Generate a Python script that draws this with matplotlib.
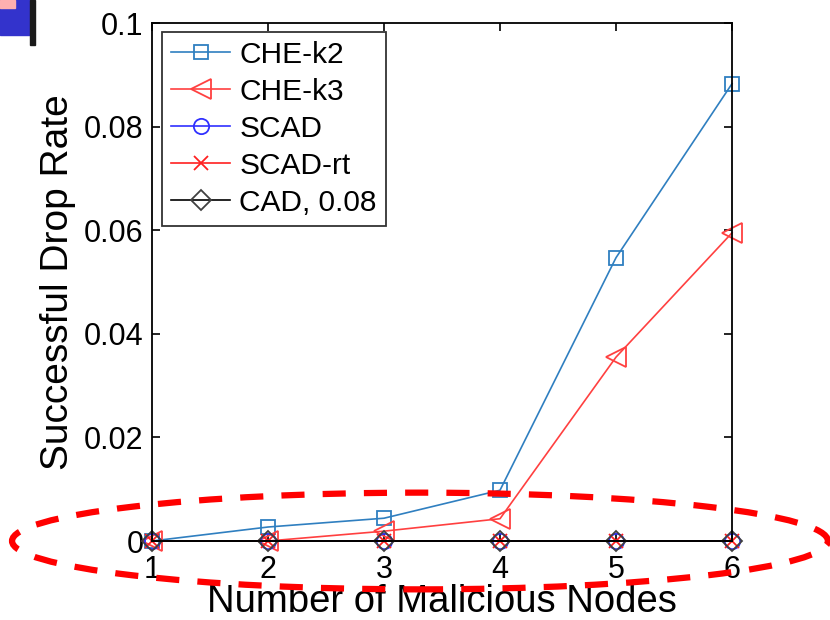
import matplotlib
matplotlib.use("Agg")
import matplotlib.pyplot as plt
from matplotlib.patches import Ellipse, Rectangle

plt.rcParams['font.family'] = ['Liberation Sans', 'DejaVu Sans']

nodes = [1, 2, 3, 4, 5, 6]
che_k2 = [0.0, 0.0027, 0.0044, 0.0098, 0.0547, 0.0883]
che_k3 = [0.0, 0.0, 0.0019, 0.0043, 0.0355, 0.0595]
scad = [0, 0, 0, 0, 0, 0]
scad_rt = [0, 0, 0, 0, 0, 0]
cad = [0, 0, 0, 0, 0, 0]
yticks = [0, 0.02, 0.04, 0.06, 0.08, 0.1]
ytick_labels = ["0", "0.02", "0.04", "0.06", "0.08", "0.1"]


def main():
    fig = plt.figure(figsize=(8.3, 6.2), dpi=100)
    ax = fig.add_axes([0.183, 0.1274, 0.699, 0.8355])

    kw = dict(lw=1.2, mew=1.3, clip_on=False)
    ax.plot(nodes, che_k2, color="#2f7fc0", marker="s", ms=10,
            mfc="none", label="CHE-k2", **kw)
    ax.plot(nodes, che_k3, color="#ff4040", marker="<", ms=14,
            mfc="none", label="CHE-k3", **kw)
    ax.plot(nodes, scad, color="#3030ff", marker="o", ms=11,
            mfc="none", label="SCAD", **kw)
    ax.plot(nodes, scad_rt, color="#ff2020", marker="x", ms=10,
            label="SCAD-rt", **kw)
    ax.plot(nodes, cad, color="black", marker="D", ms=10,
            mfc="none", mec="#404040", label="CAD, 0.08", **kw)

    ax.set_xlim(1, 6)
    ax.set_ylim(0, 0.1)
    ax.set_xticks(nodes)
    ax.set_yticks(yticks)
    ax.set_yticklabels(ytick_labels)
    ax.tick_params(direction="in", top=True, right=True, labelsize=22,
                   length=6, width=1.2, pad=6)
    ax.tick_params(axis="x", pad=10)
    for s in ax.spines.values():
        s.set_linewidth(1.3)
    ax.set_xlabel("Number of Malicious Nodes", fontsize=27.5, labelpad=-1)
    ax.set_ylabel("Successful Drop Rate", fontsize=28, labelpad=6)

    leg = ax.legend(loc="upper left", bbox_to_anchor=(0.017, 0.983),
                    fontsize=21.5, frameon=True, fancybox=False,
                    edgecolor="black", borderaxespad=0, handlelength=2.0,
                    labelspacing=0.3, handletextpad=0.3, borderpad=0.3)
    leg.get_frame().set_linewidth(1.3)

    # red dashed ellipse highlighting the bottom
    ell = Ellipse((0.506, 1 - 541 / 620), 0.983, 0.156,
                  transform=fig.transFigure, fill=False,
                  edgecolor="red", lw=4.5, ls=(0, (3.7, 2.9)), zorder=10)
    fig.add_artist(ell)
    # slide decoration top-left
    fig.patches.append(Rectangle((0, 1 - 35 / 620), 30 / 830, 35 / 620,
                                 transform=fig.transFigure, color="#3333cc"))
    fig.patches.append(Rectangle((0, 1 - 8 / 620), 15 / 830, 8 / 620,
                                 transform=fig.transFigure, color="#ffb0b0"))
    fig.patches.append(Rectangle((30 / 830, 1 - 45 / 620), 5 / 830, 45 / 620,
                                 transform=fig.transFigure, color="#1a1a1a"))

    plt.savefig("out.png", dpi=100)


if __name__ == "__main__":
    main()
